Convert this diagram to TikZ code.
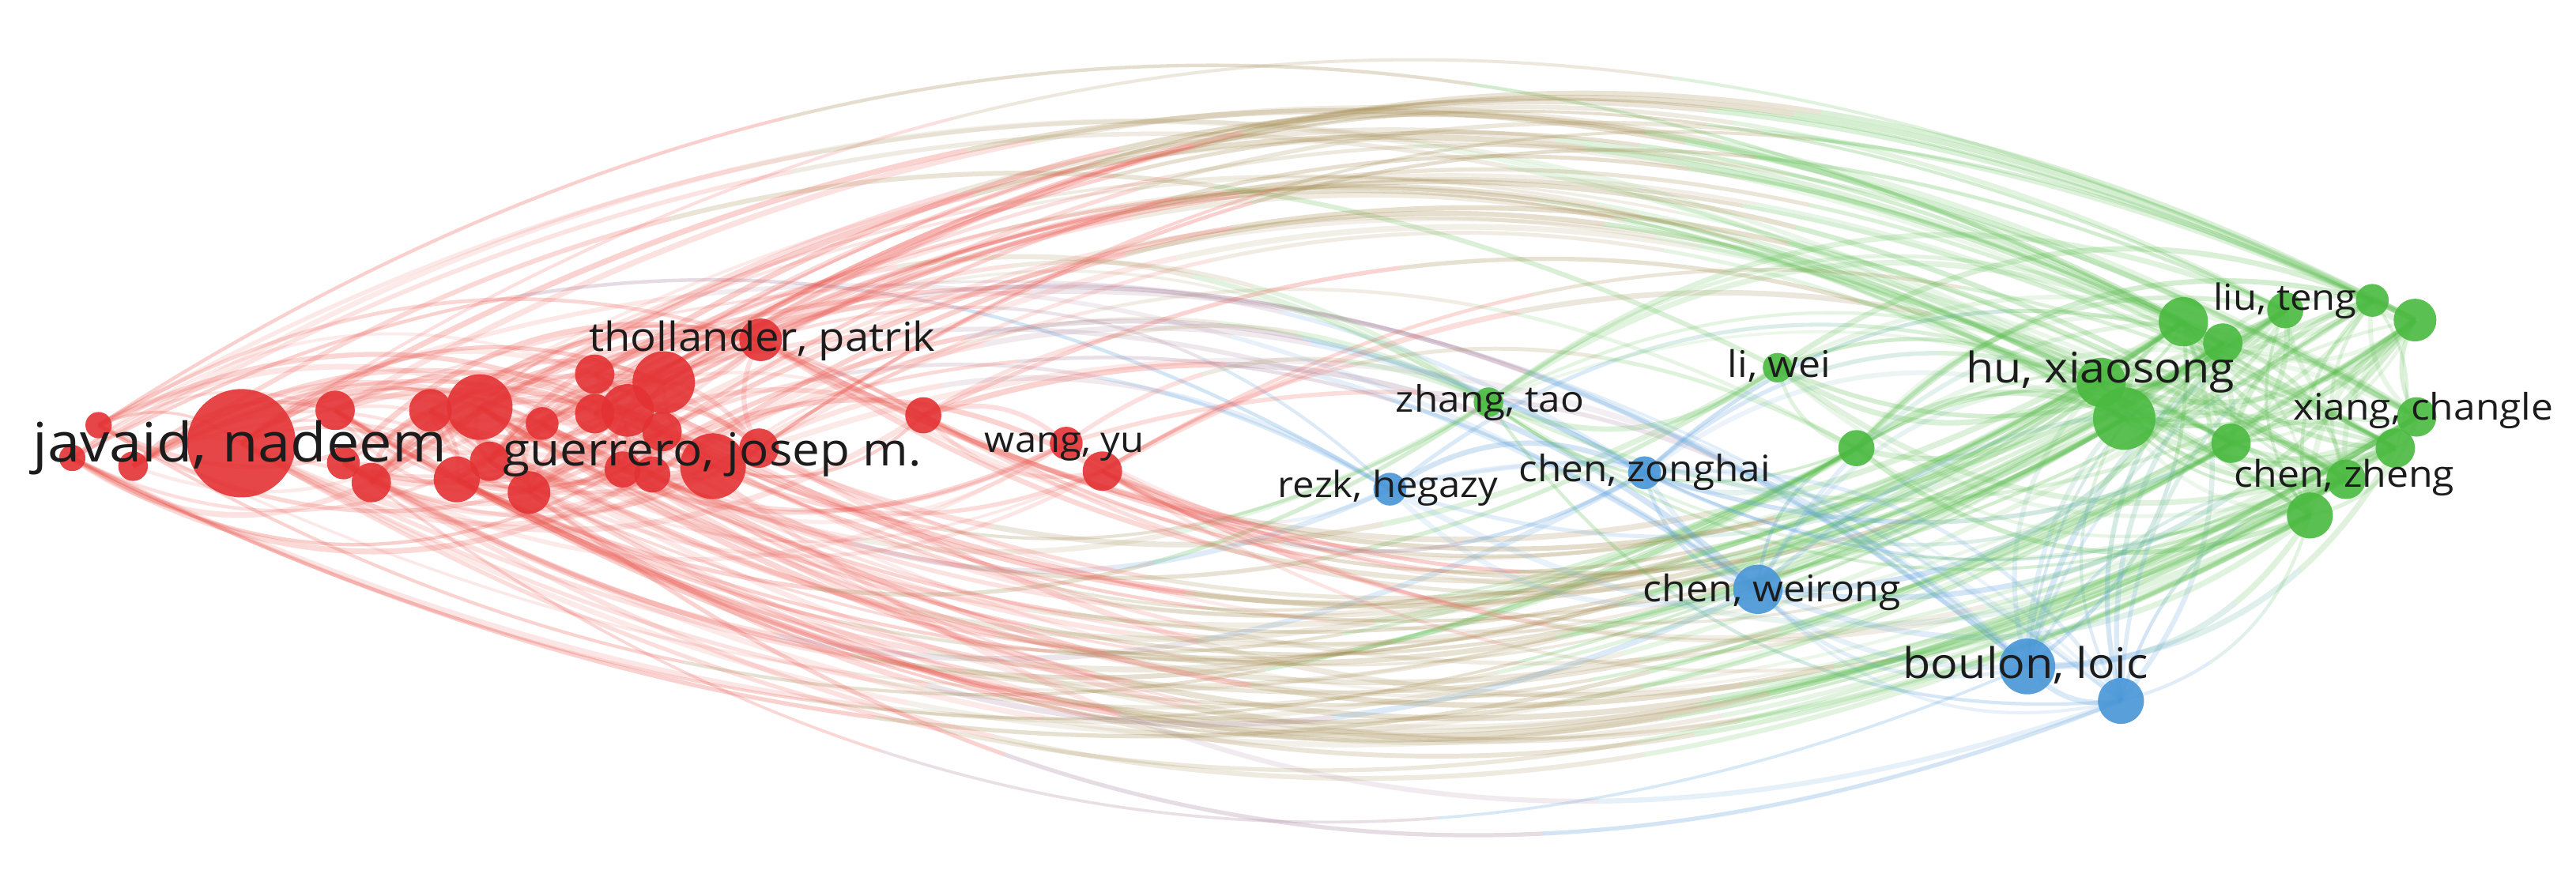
\documentclass[tikz,border=0pt]{standalone}
\usepackage{fontspec}
\setmainfont{Open Sans}
\usetikzlibrary{calc}
\definecolor{c1}{RGB}{228,50,52}
\definecolor{c2}{RGB}{74,186,64}
\definecolor{c3}{RGB}{72,150,216}
\definecolor{e1}{RGB}{236,88,80}
\definecolor{e2}{RGB}{92,190,80}
\definecolor{e3}{RGB}{88,158,220}
\definecolor{labeltext}{RGB}{28,28,28}
\tikzset{
  vnode/.style={circle, inner sep=0pt, draw=none, fill opacity=0.9},
  lbl/.style={anchor=base, inner sep=0pt, text=labeltext},
}
\newcommand{\vlink}[8]{%
  % #1 from, #2 to, #3 angle, #4 -angle, #5 colour A, #6 colour B, #7 opacity, #8 width
  \coordinate (p0) at (#1);
  \coordinate (p3) at (#2);
  \coordinate (p1) at ($(p0)!0.3915!#3:(p3)$);
  \coordinate (p2) at ($(p3)!0.3915!#4:(p0)$);
  \coordinate (q01) at ($(p0)!0.3333!(p1)$);
  \coordinate (q12) at ($(p1)!0.3333!(p2)$);
  \coordinate (q23) at ($(p2)!0.3333!(p3)$);
  \coordinate (r0) at ($(q01)!0.3333!(q12)$);
  \coordinate (r1) at ($(q12)!0.3333!(q23)$);
  \coordinate (s) at ($(r0)!0.3333!(r1)$);
  \coordinate (u01) at ($(s)!0.5!(r1)$);
  \coordinate (u12) at ($(r1)!0.5!(q23)$);
  \coordinate (u23) at ($(q23)!0.5!(p3)$);
  \coordinate (v0) at ($(u01)!0.5!(u12)$);
  \coordinate (v1) at ($(u12)!0.5!(u23)$);
  \coordinate (w) at ($(v0)!0.5!(v1)$);
  \draw[line width=#8pt, draw opacity=#7, #5] (p0) .. controls (q01) and (r0) .. (s);
  \draw[line width=#8pt, draw opacity=#7, #5!50!#6] (s) .. controls (u01) and (v0) .. (w);
  \draw[line width=#8pt, draw opacity=#7, #6] (w) .. controls (v1) and (u23) .. (p3);
}
\def\nodelist{1/147/270/33/1, 2/44/279/8/1, 3/81/284/9/1, 4/60/259/8/1, 5/204/250/12/1,
 6/209/282/10/1, 7/226/294/12/1, 8/262/250/13/1, 9/292/248/20/1, 10/278/292/14/1,
 11/298/281/12/1, 12/322/300/13/1, 13/330/258/10/1, 14/362/228/12/1, 15/362/252/12/1,
 16/382/250/16/1, 17/404/233/19/1, 18/379/286/11/1, 19/397/289/11/1, 20/434/284/20/1,
 21/403/263/12/1, 22/462/273/12/1, 23/463/207/13/1, 24/562/253/11/1, 25/649/270/10/1,
 26/671/287/12/1,
 27/906/245/9/2, 28/1082/224/9/2, 29/1130/273/11/2, 30/1279/233/15/2, 31/1293/255/19/2,
 32/1329/196/15/2, 33/1353/209/12/2, 34/1391/189/11/2, 35/1444/183/10/2, 36/1470/195/13/2,
 37/1358/270/12/2, 38/1471/254/12/2, 39/1458/273/12/2, 40/1428/292/12/2, 41/1406/314/14/2,
 42/846/298/10/3, 43/1001/288/10/3, 44/1070/359/15/3, 45/1234/406/17/3, 46/1291/427/14/3}
\begin{document}
\begin{tikzpicture}[x=2.0785pt, y=-2.0774pt]
\useasboundingbox (0,0) rectangle (1568,530);
\fill[white] (0,0) rectangle (1568,530);
% node centres
\foreach \i/\x/\y/\r/\c in \nodelist {
  \coordinate (n\i) at (\x,\y);
  \expandafter\xdef\csname vr\i\endcsname{\r}%
  \expandafter\xdef\csname vc\i\endcsname{\c}%
}
% links
\pgfmathsetseed{4711}
\foreach \i in {1,...,45}{
  \pgfmathtruncatemacro\js{\i+1}
  \foreach \j in {\js,...,46}{
    \edef\ci{\csname vc\i\endcsname}\edef\cj{\csname vc\j\endcsname}%
    \edef\ri{\csname vr\i\endcsname}\edef\rj{\csname vr\j\endcsname}%
    \pgfmathtruncatemacro\k{\ci*\cj}%
    \pgfmathsetmacro\base{(\k==1)*0.36+(\k==4)*0.7+(\k==9)*0.8+(\k==2)*0.27+(\k==3)*0.16+(\k==6)*0.4}%
    \pgfmathsetmacro\p{\base*(0.45+(\ri+\rj)/40)}%
    \pgfmathsetmacro\u{rnd}%
    \ifdim\u pt<\p pt
      \pgfmathsetmacro\s{rnd<0.5 ? 30 : -30}%
      \pgfmathsetmacro\sn{-\s}%
      \pgfmathsetmacro\op{0.11+0.18*rnd}%
      \pgfmathsetmacro\lw{3.5+4*rnd}%
      \vlink{n\i}{n\j}{\s}{\sn}{e\ci}{e\cj}{\op}{\lw}
    \fi
  }
}
% node circles
\foreach \i/\x/\y/\r/\c in \nodelist {
  \pgfmathsetmacro\d{\r*4.156}
  \node[vnode, fill=c\c, minimum size=\d pt] (v\i) at (n\i) {};
}
% labels
\node[lbl, font=\fontsize{74}{74}\selectfont] (l1) at (146,281.5) {\scalebox{1}[0.93]{javaid, nadeem}};
\node[lbl, font=\fontsize{62}{62}\selectfont] (l2) at (433.5,284) {\scalebox{1}[0.93]{guerrero, josep m.}};
\node[lbl, font=\fontsize{54.5}{54.5}\selectfont] (l3) at (464,214) {\scalebox{1}[0.93]{thollander, patrik}};
\node[lbl, font=\fontsize{49}{49}\selectfont] (l4) at (648,275.7) {\scalebox{1}[0.93]{wang, yu}};
\node[lbl, font=\fontsize{49.5}{49.5}\selectfont] (l5) at (907,251) {\scalebox{1}[0.93]{zhang, tao}};
\node[lbl, font=\fontsize{49}{49}\selectfont] (l6) at (845,303) {\scalebox{1}[0.93]{rezk, hegazy}};
\node[lbl, font=\fontsize{49.5}{49.5}\selectfont] (l7) at (1001,293.6) {\scalebox{1}[0.93]{chen, zonghai}};
\node[lbl, font=\fontsize{50}{50}\selectfont] (l8) at (1083,230) {\scalebox{1}[0.93]{li, wei}};
\node[lbl, font=\fontsize{50}{50}\selectfont] (l9) at (1078.5,366.7) {\scalebox{1}[0.93]{chen, weirong}};
\node[lbl, font=\fontsize{57.5}{57.5}\selectfont] (l10) at (1233,413.4) {\scalebox{1}[0.93]{boulon, loic}};
\node[lbl, font=\fontsize{57.5}{57.5}\selectfont] (l11) at (1278.5,233.4) {\scalebox{1}[0.93]{hu, xiaosong}};
\node[lbl, font=\fontsize{49}{49}\selectfont] (l12) at (1391,189) {\scalebox{1}[0.93]{liu, teng}};
\node[lbl, font=\fontsize{49.7}{49.7}\selectfont] (l13) at (1475,256) {\scalebox{1}[0.93]{xiang, changle}};
\node[lbl, font=\fontsize{50}{50}\selectfont] (l14) at (1427,297) {\scalebox{1}[0.93]{chen, zheng}};
\end{tikzpicture}
\end{document}
